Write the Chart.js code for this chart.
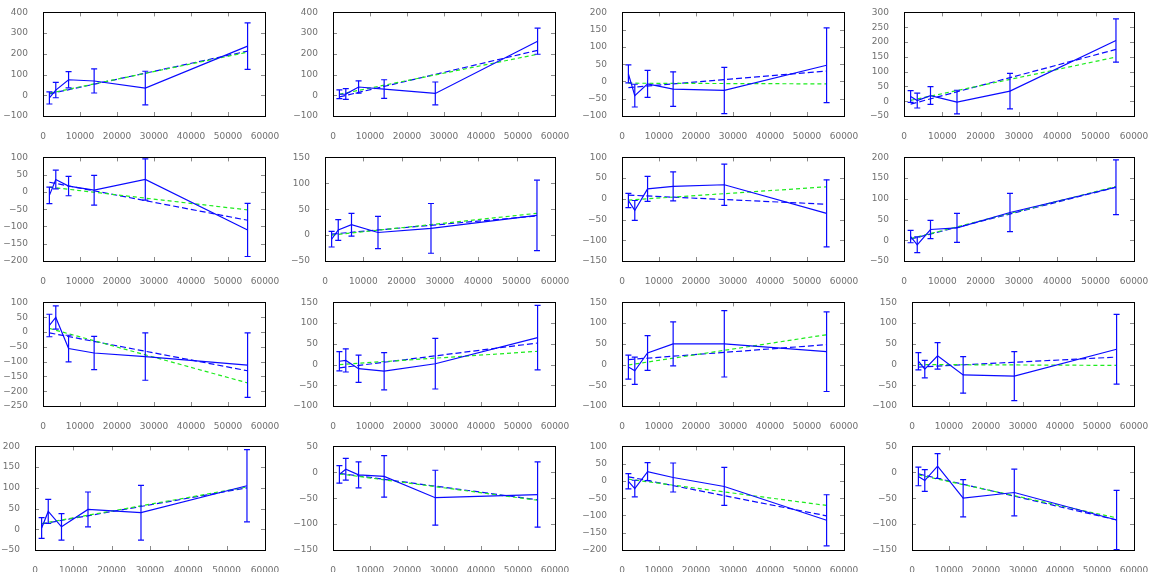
<!DOCTYPE html>
<html>
<head>
<meta charset="utf-8">
<script src="https://cdn.jsdelivr.net/npm/chart.js@4.4.0/dist/chart.umd.min.js"></script>
<style>
  html, body { margin: 0; padding: 0; background: #fff; overflow: hidden; }
  #wrap { position: relative; width: 1158px; height: 572px; }
  #wrap canvas { position: absolute; }
</style>
</head>
<body>
<div id="wrap"></div>
<script>
// sample sizes on the x axis (same for every panel)
const xs = [1728, 3456, 6912, 13824, 27648, 55296];

// measured values (blue solid line) and half error bars, per panel
const y1 = [-13, 25, 75, 69, 35, 237];   const e1 = [29, 37, 39, 58, 81, 112];
const y2 = [5, 6, 40, 30, 9, 261];       const e2 = [21, 26, 30, 45, 55, 63];
const y3 = [22, -41, -7, -22, -26, 47];  const e3 = [26, 33, 39, 50, 67, 108];
const y4 = [16, 2, 19, -3, 34, 205];     const e4 = [20, 25, 30, 40, 60, 73];
const y5 = [-10, 36, 17, 5, 36, -110];   const e5 = [24, 27, 28, 43, 60, 77];
const y6 = [-8, 10, 20, 5, 13, 38];      const e6 = [15, 20, 22, 31, 48, 68];
const y7 = [-4, -28, 24, 30, 34, -35];   const e7 = [17, 24, 30, 35, 50, 81];
const y8 = [9, -11, 26, 30, 67, 128];    const e8 = [15, 19, 22, 35, 46, 66];
const y9 = [22, 49, -56, -71, -83, -112]; const e9 = [38, 39, 45, 56, 80, 109];
const y10 = [8, 10, -10, -16, 2, 65];    const e10 = [23, 28, 33, 45, 61, 78];
const y11 = [-6, -15, 28, 50, 50, 31];   const e11 = [29, 33, 42, 53, 80, 96];
const y12 = [8, -11, 21, -25, -28, 37];  const e12 = [21, 21, 32, 44, 59, 84];
const y13 = [3, 43, 6, 48, 40, 105];     const e13 = [25, 29, 32, 42, 66, 87];
const y14 = [-4, 6, -5, -8, -49, -43];   const e14 = [17, 21, 25, 40, 53, 63];
const y15 = [-1, -22, 27, 10, -16, -114]; const e15 = [22, 24, 26, 42, 55, 74];
const y16 = [-8, -16, 12, -50, -39, -92]; const e16 = [18, 21, 24, 36, 45, 57];

// fit lines: value at first and last x
const blueFit = [[7, 213], [-8, 217], [-18, 30], [-10, 175],
                 [28, -82], [2, 37], [9, -13], [3, 128],
                 [-3, -131], [-8, 52], [12, 48], [-6, 18],
                 [13, 100], [-2, -53], [12, -101], [-3, -92]];
const greenFit = [[10, 208], [5, 198], [-5, -7], [3, 149],
                  [14, -52], [0, 42], [-3, 29], [4, 130],
                  [12, -172], [0, 32], [-1, 72], [0, -2],
                  [14, 102], [-3, -54], [5, -71], [-5, -88]];

// y axis: min, max, step
const yAxes = [[-100, 400, 100], [-100, 400, 100], [-100, 200, 50], [-50, 300, 50],
               [-200, 100, 50], [-50, 150, 50], [-150, 100, 50], [-50, 200, 50],
               [-250, 100, 50], [-100, 150, 50], [-100, 150, 50], [-100, 150, 50],
               [-50, 200, 50], [-150, 50, 50], [-200, 100, 50], [-150, 50, 50]];
const xMin = 0, xMax = 60000, xStep = 10000;

const ys = [y1, y2, y3, y4, y5, y6, y7, y8, y9, y10, y11, y12, y13, y14, y15, y16];
const es = [e1, e2, e3, e4, e5, e6, e7, e8, e9, e10, e11, e12, e13, e14, e15, e16];

const BLUE = 'rgb(10,10,255)';
const GREEN = 'rgb(30,235,30)';
const LABEL = '#707070';
const font = { family: 'DejaVu Sans', size: 9 };

const colLeft = [0, 290, 579, 869];
const rowTop = [0, 145, 290, 434];

const fmt = v => v < 0 ? '\u2212' + Math.abs(v) : String(v);

// gnuplot-like border with inward ticks on all four sides
const framePlugin = {
  id: 'frame',
  afterDraw(chart) {
    const { ctx, chartArea: a, scales: { x, y } } = chart;
    ctx.save();
    ctx.lineWidth = 1;
    ctx.strokeStyle = '#8a8a8a';
    ctx.beginPath();
    x.ticks.forEach(t => {
      const px = Math.round(x.getPixelForValue(t.value)) + 0.5;
      ctx.moveTo(px, a.bottom); ctx.lineTo(px, a.bottom - 4);
      ctx.moveTo(px, a.top); ctx.lineTo(px, a.top + 4);
    });
    y.ticks.forEach(t => {
      const py = Math.round(y.getPixelForValue(t.value)) + 0.5;
      ctx.moveTo(a.left, py); ctx.lineTo(a.left + 4, py);
      ctx.moveTo(a.right, py); ctx.lineTo(a.right - 4, py);
    });
    ctx.stroke();
    ctx.strokeStyle = '#000';
    ctx.strokeRect(Math.round(a.left) + 0.5, Math.round(a.top) + 0.5,
                   Math.round(a.right - a.left), Math.round(a.bottom - a.top));
    ctx.restore();
  }
};

const wrap = document.getElementById('wrap');

for (let i = 0; i < 16; i++) {
  const row = Math.floor(i / 4), col = i % 4;
  const canvas = document.createElement('canvas');
  canvas.width = 289; canvas.height = 143;
  canvas.style.left = colLeft[col] + 'px';
  canvas.style.top = rowTop[row] + 'px';
  wrap.appendChild(canvas);

  const yv = ys[i], ev = es[i];
  const datasets = [];
  // error bars, one small dataset per point
  xs.forEach((x, k) => {
    datasets.push({
      data: [{ x: x, y: yv[k] - ev[k] }, { x: x, y: yv[k] + ev[k] }],
      borderColor: BLUE, borderWidth: 1.2,
      pointStyle: 'line', pointRadius: 3, pointBorderWidth: 1.2,
      pointBorderColor: BLUE
    });
  });
  datasets.push({
    data: xs.map((x, k) => ({ x: x, y: yv[k] })),
    borderColor: BLUE, borderWidth: 1.2, pointRadius: 0
  });
  datasets.push({
    data: [{ x: xs[0], y: greenFit[i][0] }, { x: xs[xs.length - 1], y: greenFit[i][1] }],
    borderColor: GREEN, borderWidth: 1.2, borderDash: [4, 3], pointRadius: 0
  });
  datasets.push({
    data: [{ x: xs[0], y: blueFit[i][0] }, { x: xs[xs.length - 1], y: blueFit[i][1] }],
    borderColor: BLUE, borderWidth: 1.2, borderDash: [6, 3], pointRadius: 0
  });

  new Chart(canvas, {
    type: 'line',
    data: { datasets: datasets },
    plugins: [framePlugin],
    options: {
      responsive: false,
      animation: false,
      devicePixelRatio: 1,
      layout: { padding: { top: 9, right: 24, bottom: 0, left: 0 } },
      plugins: { legend: { display: false }, tooltip: { enabled: false } },
      scales: {
        x: {
          type: 'linear', min: xMin, max: xMax,
          grid: { display: false }, border: { display: false },
          ticks: { stepSize: xStep, padding: 7, color: LABEL, font: font,
                   maxRotation: 0, autoSkip: false, callback: v => String(v) },
          afterFit: s => { s.height = 27; }
        },
        y: {
          type: 'linear', min: yAxes[i][0], max: yAxes[i][1],
          grid: { display: false }, border: { display: false },
          ticks: { stepSize: yAxes[i][2], padding: 7, color: LABEL, font: font,
                   autoSkip: false, callback: v => fmt(v) },
          afterFit: s => {
            const n = Math.max(...s.ticks.map(t => String(t.label).length));
            s.width = n >= 4 ? 43 : 35;
          }
        }
      }
    }
  });
}
</script>
</body>
</html>
